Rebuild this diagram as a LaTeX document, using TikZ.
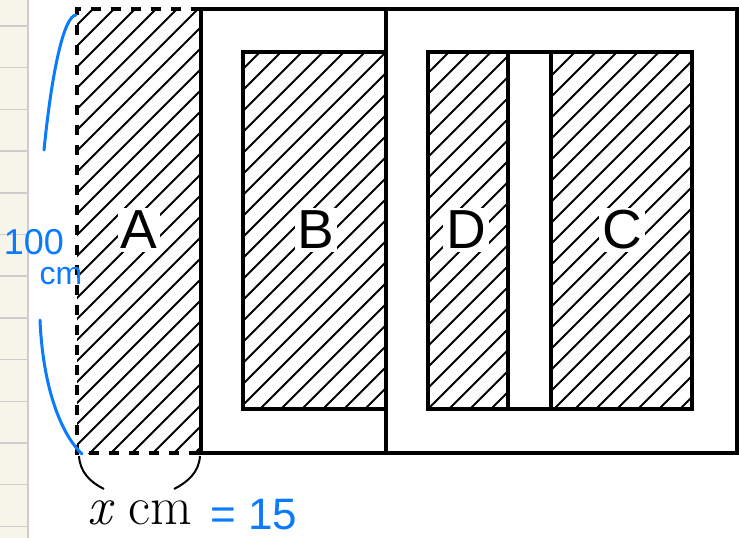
\documentclass[tikz,border=0pt]{standalone}
\usepackage{fontspec}
\usepackage{xcolor}
\usepackage{tikz}
\newfontfamily\letterfont{Liberation Sans}
\newfontfamily\handfont{Liberation Sans}
\definecolor{pagebg}{RGB}{247,245,233}
\definecolor{pageline}{RGB}{205,205,205}
\definecolor{penblue}{RGB}{10,122,255}

\begin{document}
\begin{tikzpicture}[
  x=1pt, y=-1pt,
  frame/.style={line width=3.3pt},
  dashframe/.style={line width=3.3pt, dash pattern=on 10pt off 10pt},
  hatch/.style={line width=1.8pt},
  lab/.style={fill=white, inner sep=3pt, font=\letterfont\fontsize{55}{55}\selectfont},
  brace/.style={line width=2pt},
  pen/.style={penblue, line width=3pt, line cap=round},
  hand/.style={text=penblue, inner sep=0pt, font=\handfont\fontsize{36}{36}\selectfont}
]
\useasboundingbox (0,0) rectangle (739,538);
% notebook margin
\fill[pagebg] (0,0) rectangle (27,538);
\foreach \y in {26,67.7,...,530} \draw[pageline, line width=1.5pt] (0,\y) -- (27,\y);
\draw[pageline, line width=2pt] (27.5,0) -- (27.5,538);
% hatched areas A, B, D, C
\foreach \x/\y/\X/\Y in {77/9/201/453, 243/52/386/409, 428/52/508/409, 551/52/692/409} {
  \begin{scope}
    \clip (\x,\y) rectangle (\X,\Y);
    \foreach \c in {18,39,...,1278} \draw[hatch] (\c,0) -- ++(-560,560);
  \end{scope}
}
% outlines
\draw[dashframe] (201,9) -- (77,9) -- (77,453) -- (201,453);
\draw[frame] (201,9) rectangle (737,453);
\draw[frame] (386,9) -- (386,453);
\draw[frame] (243,52) rectangle (386,409);
\draw[frame] (428,52) rectangle (692,409);
\draw[frame] (508,52) -- (508,409) (551,52) -- (551,409);
% labels
\node[lab] (A) at (139,230) {A};
\node[lab] (B) at (316,230) {B};
\node[lab] (D) at (466,230) {D};
\node[lab] (C) at (622,230) {C};
% width of A
\draw[brace] (79,456) .. controls (80,472) and (90,482) .. (104,489);
\draw[brace] (200,456) .. controls (199,472) and (188,482) .. (174,489);
\node[anchor=base, inner sep=0pt, font=\fontsize{54}{54}\selectfont] (xcm) at (140,524) {{\itshape x} cm};
% pen notes
\draw[pen] (76,15) .. controls (64,16) and (52,70) .. (44,150);
\draw[pen] (40,320) .. controls (43,390) and (62,435) .. (82,454);
\node[hand] (hundred) at (34,242) {100};
\node[hand, font=\handfont\fontsize{32}{32}\selectfont] (cmunit) at (61,276) {cm};
\node[hand, anchor=base west, font=\handfont\fontsize{44}{44}\selectfont] (fifteen) at (210,529) {= 15};
\end{tikzpicture}
\end{document}
